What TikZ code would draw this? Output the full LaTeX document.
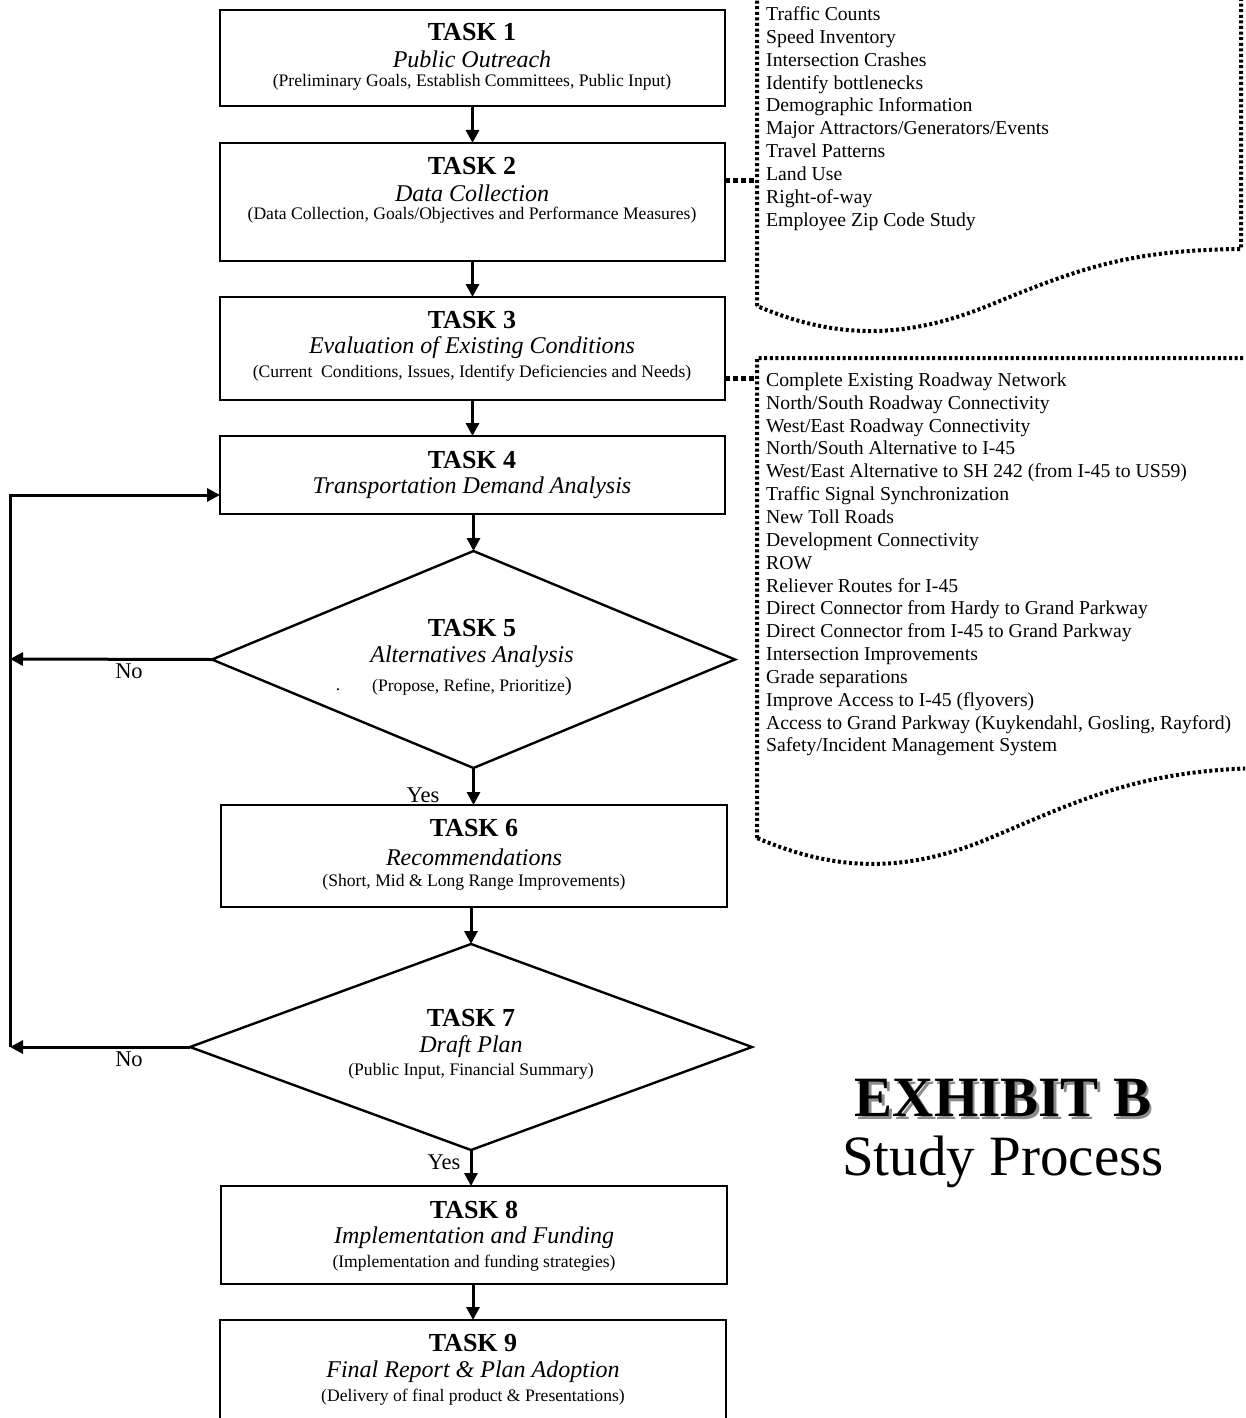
\documentclass[tikz,border=0pt]{standalone}
\usepackage{fontspec}
\setmainfont{Liberation Serif}
\usetikzlibrary{shapes.geometric,arrows.meta,calc}
\begin{document}
\begin{tikzpicture}[x=1pt,y=-1pt,
  taskbox/.style={draw,line width=2.4pt,rectangle,inner sep=0pt,outer sep=0pt},
  taskdia/.style={draw,line width=2.4pt,diamond,inner sep=0pt,outer sep=0pt},
  ttl/.style={font=\fontsize{26}{30}\selectfont\bfseries,inner sep=0pt},
  sub/.style={font=\fontsize{24}{28}\selectfont\itshape,inner sep=0pt},
  par/.style={font=\fontsize{17.6}{20}\selectfont,inner sep=0pt},
  flow/.style={line width=3pt,-{Triangle[length=13pt,width=13pt]}},
  plain/.style={line width=3pt},
  docline/.style={line width=4pt,dash pattern=on 3pt off 2.6pt},
  conn/.style={line width=5pt,dash pattern=on 4.5pt off 3.5pt},
  lst/.style={font=\fontsize{19.7}{22.85}\selectfont,align=left,inner sep=0pt,anchor=north west},
  lab/.style={font=\fontsize{22.5}{26}\selectfont,inner sep=0pt}]
\useasboundingbox (0,0) rectangle (1245,1418);
\clip (0,0) rectangle (1245,1418);

% boxes
\node[taskbox,minimum width=505pt,minimum height=96pt] (t1) at (472.5,58) {};
\node[taskbox,minimum width=505pt,minimum height=118pt] (t2) at (472.5,202) {};
\node[taskbox,minimum width=505pt,minimum height=103pt] (t3) at (472.5,348.5) {};
\node[taskbox,minimum width=505pt,minimum height=78pt] (t4) at (472.5,475) {};
\node[taskdia,minimum width=523pt,minimum height=217pt] (t5) at (473.5,659.5) {};
\node[taskbox,minimum width=506pt,minimum height=102pt] (t6) at (474,856) {};
\node[taskdia,minimum width=562pt,minimum height=206pt] (t7) at (471,1047) {};
\node[taskbox,minimum width=506pt,minimum height=98pt] (t8) at (474,1235) {};
\node[taskbox,minimum width=506pt,minimum height=100pt] (t9) at (473,1370) {};

% texts
\node[ttl] (t1a) at (472,32) {TASK 1};
\node[sub] (t1b) at (472,59) {Public Outreach};
\node[par] (t1c) at (472,82) {(Preliminary Goals, Establish Committees, Public Input)};

\node[ttl] (t2a) at (472,166) {TASK 2};
\node[sub] (t2b) at (472,193) {Data Collection};
\node[par] (t2c) at (472,215) {(Data Collection, Goals/Objectives and Performance Measures)};

\node[ttl] (t3a) at (472,320) {TASK 3};
\node[sub] (t3b) at (472,348) {Evaluation of Existing Conditions};
\node[par] (t3c) at (472,373) {(Current\ \ Conditions, Issues, Identify Deficiencies and Needs)};

\node[ttl] (t4a) at (472,460) {TASK 4};
\node[sub] (t4b) at (472,488) {Transportation Demand Analysis};

\node[ttl] (t5a) at (472,628) {TASK 5};
\node[sub] (t5b) at (472,657) {Alternatives Analysis};
\node[par] (t5c) at (472,686) {(Propose, Refine, Prioritize\fontsize{21}{21}\selectfont)};
\node[par] (t5d) at (338,690) {.};

\node[ttl] (t6a) at (474,828) {TASK 6};
\node[sub] (t6b) at (474,857) {Recommendations};
\node[par] (t6c) at (474,882) {(Short, Mid \& Long Range Improvements)};

\node[ttl] (t7a) at (471,1018) {TASK 7};
\node[sub] (t7b) at (471,1047) {Draft Plan};
\node[par] (t7c) at (471,1071) {(Public Input, Financial Summary)};

\node[ttl] (t8a) at (474,1210) {TASK 8};
\node[sub] (t8b) at (474,1238) {Implementation and Funding};
\node[par] (t8c) at (474,1263) {(Implementation and funding strategies)};

\node[ttl] (t9a) at (473,1343) {TASK 9};
\node[sub] (t9b) at (473,1372) {Final Report \& Plan Adoption};
\node[par] (t9c) at (473,1397) {(Delivery of final product \& Presentations)};

% main flow arrows
\draw[flow] (t1.south) -- (t2.north);
\draw[flow] (t2.south) -- (t3.north);
\draw[flow] (t3.south) -- (t4.north);
\draw[flow] (t4.south -| t5.north) -- (t5.north);
\draw[flow] (t5.south) -- (t5.south |- t6.north);
\draw[flow] (t6.south -| t7.north) -- (t7.north);
\draw[flow] (t7.south) -- (t7.south |- t8.north);
\draw[flow] (t8.south -| t9.north) -- (t9.north);

% feedback loop
\coordinate (fbtop) at (10,495);
\coordinate (fb5) at (10,659);
\coordinate (fb7) at (10,1047);
\draw[flow] (t5.west) -- (fb5);
\draw[flow] (t7.west) -- (fb7);
\draw[plain] (fb7) -- (fbtop);
\draw[flow] ([xshift=-1.5pt]fbtop) -- (fbtop -| t4.west);

\node[lab] (no5) at (129,671) {No};
\node[lab] (no7) at (129,1059) {No};
\node[lab] (yes5) at (423,795) {Yes};
\node[lab] (yes7) at (444,1162) {Yes};

% document shapes
\draw[docline] (757,306) -- (757,-40) -- (1241,-40) -- (1241,249)
  .. controls (1130,250) and (1080,268) .. (990,305)
  .. controls (900,342) and (830,337) .. cycle;
\draw[docline] (757,838) -- (757,358) -- (1262,358) -- (1262,768)
  .. controls (1140,770) and (1080,800) .. (990,838)
  .. controls (900,876) and (830,869) .. cycle;

\coordinate (d1in) at (755,180);
\coordinate (d2in) at (755,378);
\draw[conn] (d1in -| t2.east) -- (d1in);
\draw[conn] (d2in -| t3.east) -- (d2in);

\node[lst] (list1) at (766,6.5) {Traffic Counts\\Speed Inventory\\Intersection Crashes\\Identify bottlenecks\\Demographic Information\\Major Attractors/Generators/Events\\Travel Patterns\\Land Use\\Right-of-way\\Employee Zip Code Study};

\node[lst] (list2) at (766,372.5) {Complete Existing Roadway Network\\North/South Roadway Connectivity\\West/East Roadway Connectivity\\North/South Alternative to I-45\\West/East Alternative to SH 242 (from I-45 to US59)\\Traffic Signal Synchronization\\New Toll Roads\\Development Connectivity\\ROW\\Reliever Routes for I-45\\Direct Connector from Hardy to Grand Parkway\\Direct Connector from I-45 to Grand Parkway\\Intersection Improvements\\Grade separations\\Improve Access to I-45 (flyovers)\\Access to Grand Parkway (Kuykendahl, Gosling, Rayford)\\Safety/Incident Management System};

% title
\node[font=\fontsize{57}{60}\selectfont\bfseries,text=black!45,inner sep=0pt] (exs) at (1005.5,1100.5) {EXHIBIT B};
\node[font=\fontsize{57}{60}\selectfont\bfseries,inner sep=0pt] (ex) at (1003,1098) {EXHIBIT B};
\node[font=\fontsize{57}{60}\selectfont,inner sep=0pt] (sp) at (1003,1162) {Study Process};
\end{tikzpicture}
\end{document}
